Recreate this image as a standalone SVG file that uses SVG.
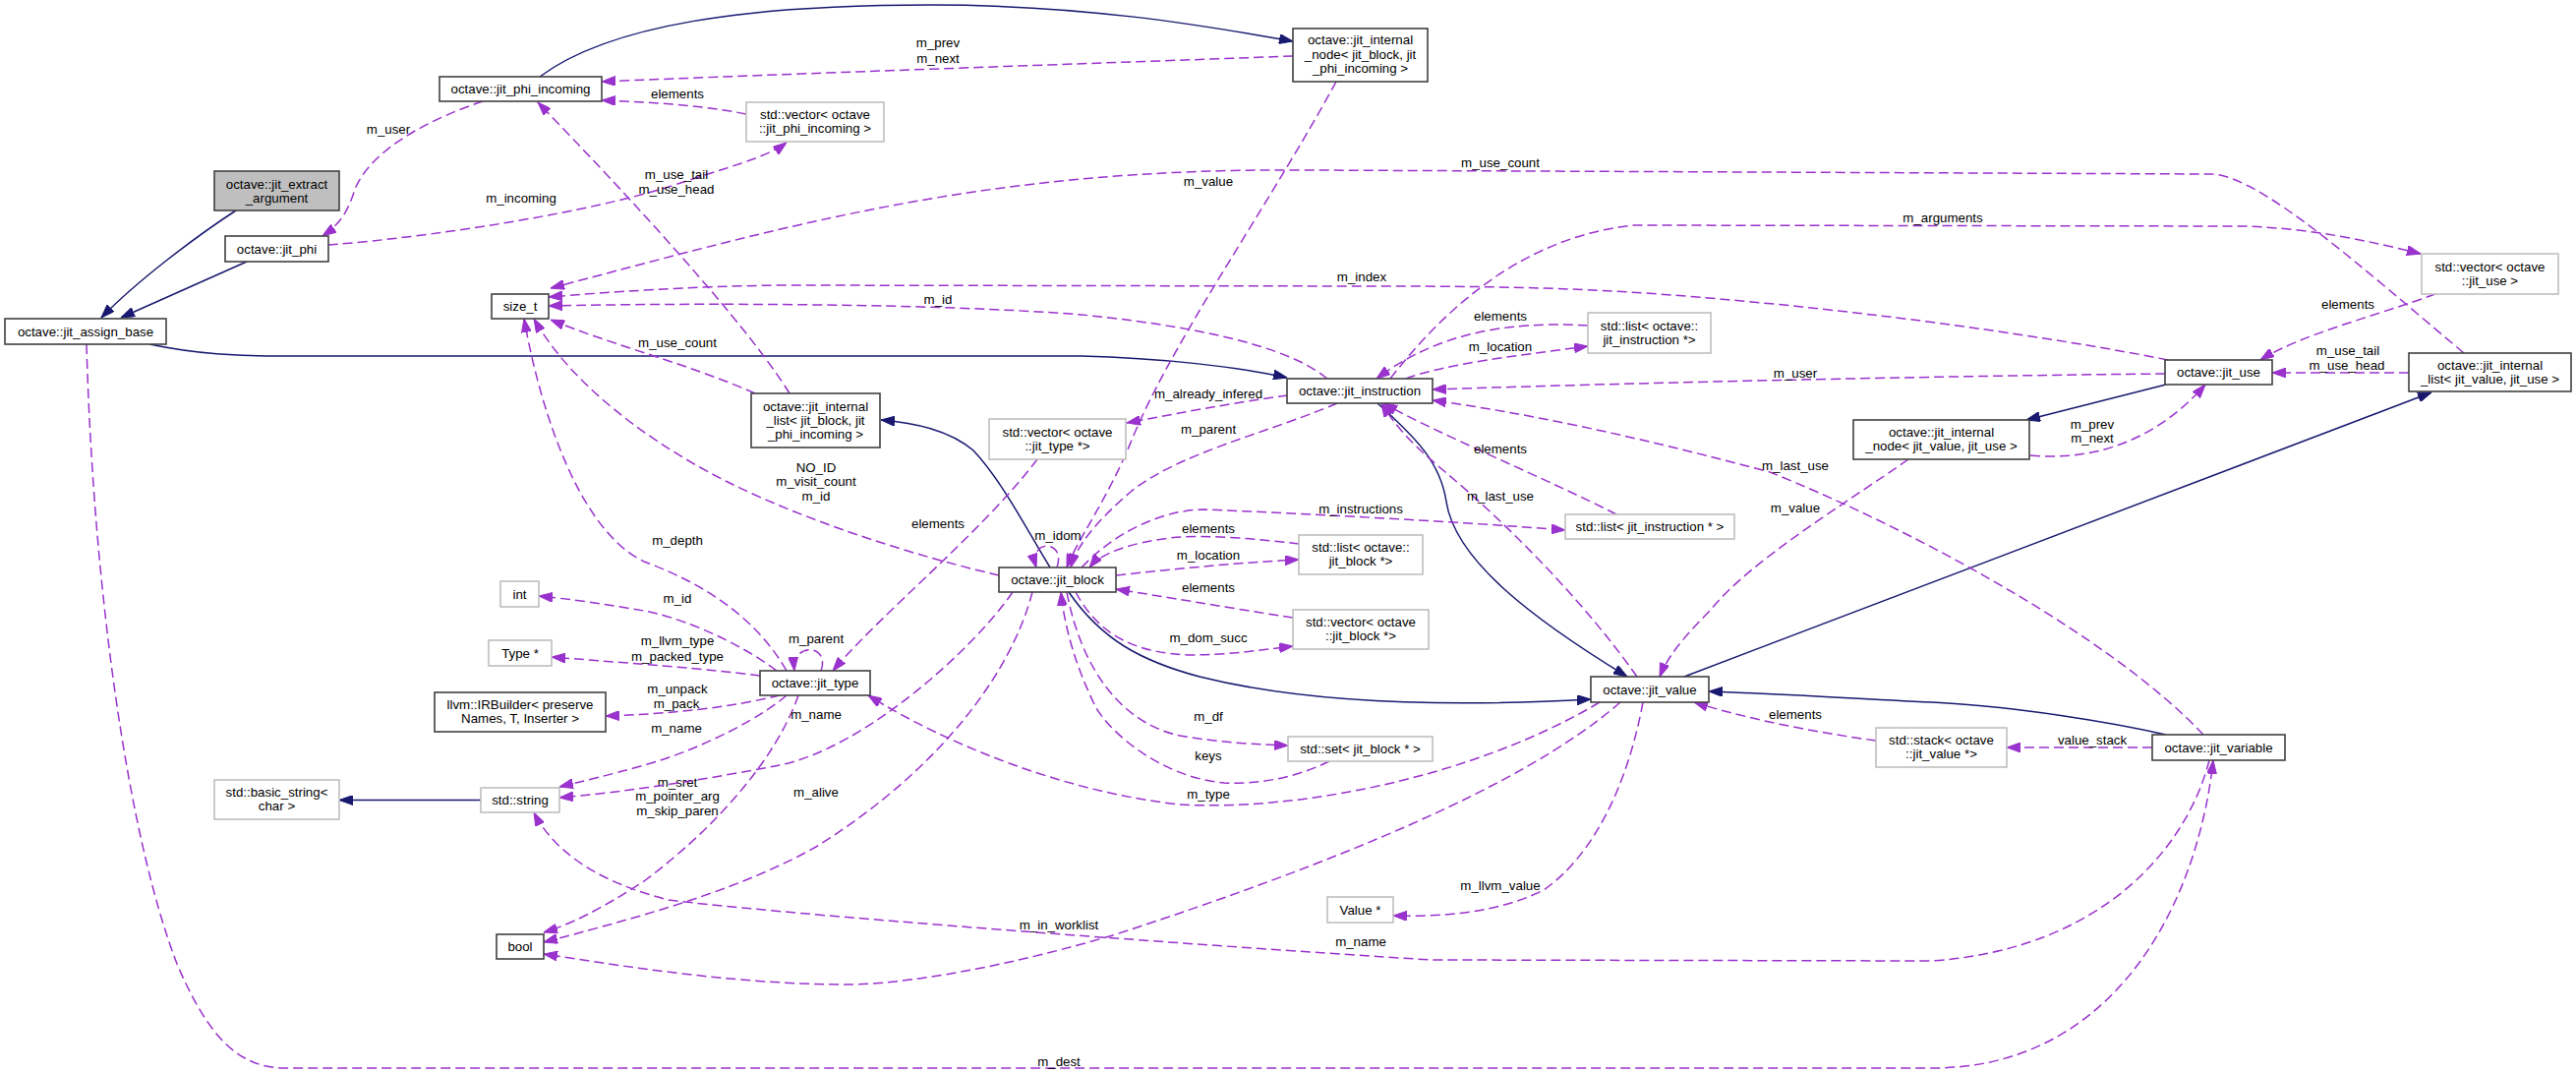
<svg xmlns="http://www.w3.org/2000/svg" width="2620" height="1092" viewBox="0 0 2620 1092">
<style>
text{font-family:"Liberation Sans",Arial,Helvetica,sans-serif;font-size:13.3px;fill:#000;text-anchor:middle}
.nb rect{fill:#fff;stroke:#404040;stroke-width:1.6}
.ng rect{fill:#fff;stroke:#bfbfbf;stroke-width:1.6}
.nm rect{fill:#bfbfbf;stroke:#404040;stroke-width:1.6}
.inh{fill:none;stroke:#191970;stroke-width:1.5;marker-end:url(#ab)}
.use{fill:none;stroke:#9a32cd;stroke-width:1.5;stroke-dasharray:10 5;marker-end:url(#ap)}
</style>
<defs>
<marker id="ab" markerUnits="userSpaceOnUse" markerWidth="14" markerHeight="10" viewBox="0 0 14 10" refX="14" refY="5" orient="auto"><path d="M0,0 L14,5 L0,10 z" fill="#191970" stroke="#191970" stroke-width="1"/></marker>
<marker id="ap" markerUnits="userSpaceOnUse" markerWidth="14" markerHeight="10" viewBox="0 0 14 10" refX="14" refY="5" orient="auto"><path d="M0,0 L14,5 L0,10 z" fill="#9a32cd" stroke="#9a32cd" stroke-width="1"/></marker>
</defs>
<rect width="2620" height="1092" fill="#fff"/>
<g id="edges">
<path class="inh" d="M240 214 C200 240 140 285 103 323"/>
<path class="inh" d="M251 266 L123 323"/>
<path class="inh" d="M152 350 C200 360 240 362 290 362 L1100 362 C1180 364 1260 373 1309 384"/>
<path class="inh" d="M1401 410 C1440 445 1465 470 1471 510 C1480 570 1560 630 1655 688"/>
<path class="inh" d="M1087 602 C1120 650 1160 672 1220 688 C1300 708 1420 722 1618 711"/>
<path class="inh" d="M2203 747 C2150 735 2050 718 1965 714 C1880 710 1800 705 1738 703"/>
<path class="inh" d="M1713 688 L2473 399"/>
<path class="inh" d="M2203 391 L2061 427"/>
<path class="inh" d="M549 78 C620 25 760 5 947 5 C1100 5 1220 25 1315 42"/>
<path class="inh" d="M1068 577 C1045 540 1020 490 990 458 C965 437 930 430 896 427"/>
<path class="inh" d="M489 813.5 L345 813.5"/>

<path class="use" d="M491 103 C440 120 380 150 362 190 C355 210 350 225 328 240"/>
<text x="395" y="135.5">m_user</text>
<path class="use" d="M334 249 C450 240 600 215 680 190 C740 170 780 160 800 145"/>
<text x="530" y="205.5">m_incoming</text>
<path class="use" d="M759 116 C720 108 670 104 612 102"/>
<text x="689" y="99.5">elements</text>
<path class="use" d="M1315 57 C1100 65 800 75 612 83"/>
<text x="954" y="47.5">m_prev</text>
<text x="954" y="63.5">m_next</text>
<path class="use" d="M803 400 C760 330 640 200 547 104"/>
<text x="688" y="181.5">m_use_tail</text>
<text x="688" y="196.5">m_use_head</text>
<path class="use" d="M768 400 C700 370 620 350 560 325"/>
<text x="689" y="352.5">m_use_count</text>
<path class="use" d="M1359 83 C1290 210 1190 350 1150 450 C1125 510 1095 550 1085 577"/>
<text x="1229" y="188.5">m_value</text>
<path class="use" d="M2506 359 C2400 270 2300 180 2250 177 L1330 173 C1000 170 800 230 560 293"/>
<text x="1526" y="169.5">m_use_count</text>
<path class="use" d="M1414 385 C1480 300 1560 240 1661 229 L2282 230 C2350 232 2410 245 2462 258"/>
<text x="1976" y="225.5">m_arguments</text>
<path class="use" d="M2205 366 C2100 345 1900 315 1700 300 C1600 292 1500 291 1400 291 L800 290 C700 291 620 297 558 302"/>
<text x="1385" y="285.5">m_index</text>
<path class="use" d="M1350 385 C1320 360 1250 335 1100 320 C950 308 700 308 558 311"/>
<text x="954" y="308.5">m_id</text>
<path class="use" d="M1615 331 C1530 326 1460 340 1400 385"/>
<text x="1526" y="325.5">elements</text>
<path class="use" d="M1430 385 C1470 370 1540 362 1615 352"/>
<text x="1526" y="356.5">m_location</text>
<path class="use" d="M2477 299 C2420 320 2340 340 2299 366"/>
<text x="2388" y="313.5">elements</text>
<path class="use" d="M2450 379 L2311 379"/>
<text x="2388" y="360.5">m_use_tail</text>
<text x="2387" y="375.5">m_use_head</text>
<path class="use" d="M2065 463 C2140 470 2200 440 2243 391"/>
<text x="2128" y="435.5">m_prev</text>
<text x="2128" y="449.5">m_next</text>
<path class="use" d="M2202 380 C2000 382 1700 388 1457 396"/>
<text x="1826" y="383.5">m_user</text>
<path class="use" d="M1310 402 C1250 410 1200 420 1146 430"/>
<text x="1229" y="404.5">m_already_infered</text>
<path class="use" d="M1360 410 C1290 440 1200 460 1150 500 C1115 530 1095 555 1089 577"/>
<text x="1229" y="440.5">m_parent</text>
<path class="use" d="M1016 585 C930 565 820 530 740 490 C660 450 580 390 543 324"/>
<text x="830" y="479.5">NO_ID</text>
<text x="830" y="493.5">m_visit_count</text>
<text x="830" y="508.5">m_id</text>
<path class="use" d="M1644 523 C1580 490 1460 440 1407 410"/>
<text x="1526" y="460.5">elements</text>
<path class="use" d="M1100 577 C1140 535 1190 518 1225 518 C1320 522 1480 530 1592 539"/>
<text x="1384" y="521.5">m_instructions</text>
<path class="use" d="M2241 747 C2150 650 1950 540 1800 480 C1650 440 1550 420 1457 407"/>
<text x="1826" y="477.5">m_last_use</text>
<path class="use" d="M1665 688 C1610 610 1530 530 1470 480 C1440 455 1420 435 1405 410"/>
<text x="1526" y="508.5">m_last_use</text>
<path class="use" d="M1941 467 C1880 510 1780 570 1740 620 C1710 650 1695 670 1688 688"/>
<text x="1826" y="520.5">m_value</text>
<path class="use" d="M1075 577 C1085 548 1045 548 1054 577"/>
<text x="1076" y="548.5">m_idom</text>
<path class="use" d="M1321 553 C1280 548 1230 543 1190 547 C1150 552 1120 562 1108 577"/>
<text x="1229" y="541.5">elements</text>
<path class="use" d="M1135 585 C1200 578 1260 572 1321 569"/>
<text x="1229" y="568.5">m_location</text>
<path class="use" d="M1315 628 C1250 618 1180 606 1135 599"/>
<text x="1229" y="601.5">elements</text>
<path class="use" d="M1094 602 C1120 650 1160 664 1210 666 C1250 666 1290 660 1315 657"/>
<text x="1229" y="652.5">m_dom_succ</text>
<path class="use" d="M1085 602 C1100 680 1140 735 1200 748 C1240 755 1280 757 1310 758"/>
<text x="1229" y="732.5">m_df</text>
<path class="use" d="M1352 774 C1320 790 1280 798 1245 796 C1180 790 1130 745 1115 720 C1095 680 1083 640 1079 602"/>
<text x="1229" y="772.5">keys</text>
<path class="use" d="M1055 467 C1000 540 900 620 847 682"/>
<text x="954" y="536.5">elements</text>
<path class="use" d="M835 682 C845 655 805 652 808 682"/>
<text x="830" y="653.5">m_parent</text>
<path class="use" d="M800 682 C770 630 720 595 655 571 C590 540 550 420 533 324"/>
<text x="689" y="553.5">m_depth</text>
<path class="use" d="M790 682 C740 645 680 625 655 621 C620 615 580 609 548 606"/>
<text x="689" y="612.5">m_id</text>
<path class="use" d="M773 687 C720 680 650 675 561 668"/>
<text x="689" y="655.5">m_llvm_type</text>
<text x="689" y="671.5">m_packed_type</text>
<path class="use" d="M793 707 C740 720 680 726 616 728"/>
<text x="689" y="704.5">m_unpack</text>
<text x="688" y="719.5">m_pack</text>
<path class="use" d="M800 707 C780 725 720 760 655 778 C620 788 590 795 569 800"/>
<text x="688" y="744.5">m_name</text>
<path class="use" d="M812 707 C790 770 730 840 655 896 C610 925 580 940 553 948"/>
<text x="689" y="799.5">m_sret</text>
<text x="689" y="813.5">m_pointer_arg</text>
<text x="689" y="828.5">m_skip_paren</text>
<path class="use" d="M1030 602 C990 660 880 760 793 778 C720 792 640 805 569 811"/>
<text x="830" y="730.5">m_name</text>
<path class="use" d="M1050 602 C1030 680 960 780 830 861 C760 900 680 925 553 958"/>
<text x="830" y="809.5">m_alive</text>
<path class="use" d="M1627 714 C1500 790 1320 825 1200 818 C1080 805 960 755 883 707"/>
<text x="1229" y="811.5">m_type</text>
<path class="use" d="M1648 714 C1550 800 1350 880 1135 950 C1000 990 900 1002 855 1001 C750 1000 650 985 553 970"/>
<text x="1077" y="944.5">m_in_worklist</text>
<path class="use" d="M1671 714 C1655 800 1620 870 1570 905 C1520 930 1460 932 1417 931"/>
<text x="1526" y="904.5">m_llvm_value</text>
<path class="use" d="M1908 753 C1850 745 1780 732 1723 714"/>
<text x="1826" y="730.5">elements</text>
<path class="use" d="M2189 760 L2041 760"/>
<text x="2128" y="756.5">value_stack</text>
<path class="use" d="M2247 773 C2225 860 2140 965 1965 977 L1456 976 C1200 960 800 930 680 915 C600 895 560 860 543 826"/>
<text x="1384" y="961.5">m_name</text>
<path class="use" d="M88 350 C95 600 130 850 180 980 C210 1050 240 1086 290 1086 L1965 1086 C2150 1086 2235 920 2251 773"/>
<text x="1077" y="1083.5">m_dest</text>
</g>
<g id="node_extract_argument" class="nm"><rect x="218" y="174" width="127" height="40"/><text x="281.5" y="191.5">octave::jit_extract</text><text x="281.5" y="205.8">_argument</text></g>
<g id="node_jit_phi" class="nb"><rect x="229" y="240" width="105" height="26"/><text x="281.5" y="257.5">octave::jit_phi</text></g>
<g id="node_jit_assign_base" class="nb"><rect x="5" y="324" width="164" height="26"/><text x="87" y="341.5">octave::jit_assign_base</text></g>
<g id="node_jit_phi_incoming" class="nb"><rect x="447" y="78" width="165" height="25"/><text x="529.5" y="95">octave::jit_phi_incoming</text></g>
<g id="node_vector_phi_incoming" class="ng"><rect x="759" y="104" width="140" height="40"/><text x="829" y="120.5">std::vector&lt; octave</text><text x="829" y="134.8">::jit_phi_incoming &gt;</text></g>
<g id="node_internal_node_block" class="nb"><rect x="1315" y="29" width="137" height="54"/><text x="1383.5" y="45.2">octave::jit_internal</text><text x="1383.5" y="59.5">_node&lt; jit_block, jit</text><text x="1383.5" y="73.8">_phi_incoming &gt;</text></g>
<g id="node_size_t" class="nb"><rect x="500" y="299" width="58" height="25"/><text x="529" y="316">size_t</text></g>
<g id="node_internal_list_block" class="nb"><rect x="764" y="400" width="131" height="55"/><text x="829.5" y="417.5">octave::jit_internal</text><text x="829.5" y="431.8">_list&lt; jit_block, jit</text><text x="829.5" y="446.1">_phi_incoming &gt;</text></g>
<g id="node_vector_jit_type" class="ng"><rect x="1006" y="426" width="139" height="41"/><text x="1075.5" y="443.5">std::vector&lt; octave</text><text x="1075.5" y="457.8">::jit_type *&gt;</text></g>
<g id="node_jit_instruction" class="nb"><rect x="1309" y="385" width="148" height="25"/><text x="1383" y="402">octave::jit_instruction</text></g>
<g id="node_list_octave_instruction" class="ng"><rect x="1615" y="318" width="125" height="41"/><text x="1677.5" y="335.5">std::list&lt; octave::</text><text x="1677.5" y="349.8">jit_instruction *&gt;</text></g>
<g id="node_vector_jit_use" class="ng"><rect x="2463" y="258" width="139" height="41"/><text x="2532.5" y="275.5">std::vector&lt; octave</text><text x="2532.5" y="289.8">::jit_use &gt;</text></g>
<g id="node_jit_use" class="nb"><rect x="2202" y="366" width="109" height="25"/><text x="2256.5" y="383">octave::jit_use</text></g>
<g id="node_internal_list_value" class="nb"><rect x="2450" y="359" width="165" height="39"/><text x="2532.5" y="375.5">octave::jit_internal</text><text x="2532.5" y="389.8">_list&lt; jit_value, jit_use &gt;</text></g>
<g id="node_internal_node_value" class="nb"><rect x="1885" y="427" width="179" height="40"/><text x="1974.5" y="443.5">octave::jit_internal</text><text x="1974.5" y="457.8">_node&lt; jit_value, jit_use &gt;</text></g>
<g id="node_list_instruction_ptr" class="ng"><rect x="1592" y="523" width="172" height="25"/><text x="1678" y="540">std::list&lt; jit_instruction * &gt;</text></g>
<g id="node_list_octave_block" class="ng"><rect x="1321" y="544" width="126" height="40"/><text x="1384" y="560.5">std::list&lt; octave::</text><text x="1384" y="574.8">jit_block *&gt;</text></g>
<g id="node_jit_block" class="nb"><rect x="1016" y="577" width="119" height="25"/><text x="1075.5" y="594">octave::jit_block</text></g>
<g id="node_vector_jit_block" class="ng"><rect x="1315" y="620" width="138" height="40"/><text x="1384" y="636.5">std::vector&lt; octave</text><text x="1384" y="650.8">::jit_block *&gt;</text></g>
<g id="node_int" class="ng"><rect x="509" y="591" width="39" height="26"/><text x="528.5" y="608.5">int</text></g>
<g id="node_type_ptr" class="ng"><rect x="497" y="651" width="64" height="26"/><text x="529" y="668.5">Type *</text></g>
<g id="node_jit_type" class="nb"><rect x="773" y="682" width="112" height="25"/><text x="829" y="699">octave::jit_type</text></g>
<g id="node_irbuilder" class="nb"><rect x="442" y="704" width="174" height="40"/><text x="529" y="720.5">llvm::IRBuilder&lt; preserve</text><text x="529" y="734.8">Names, T, Inserter &gt;</text></g>
<g id="node_basic_string" class="ng"><rect x="218" y="793" width="127" height="40"/><text x="281.5" y="809.5">std::basic_string&lt;</text><text x="281.5" y="823.8">char &gt;</text></g>
<g id="node_string" class="ng"><rect x="489" y="801" width="80" height="25"/><text x="529" y="818">std::string</text></g>
<g id="node_set_block" class="ng"><rect x="1310" y="749" width="147" height="25"/><text x="1383.5" y="766">std::set&lt; jit_block * &gt;</text></g>
<g id="node_jit_value" class="nb"><rect x="1618" y="688" width="120" height="26"/><text x="1678" y="705.5">octave::jit_value</text></g>
<g id="node_stack_value" class="ng"><rect x="1908" y="740" width="133" height="40"/><text x="1974.5" y="756.5">std::stack&lt; octave</text><text x="1974.5" y="770.8">::jit_value *&gt;</text></g>
<g id="node_jit_variable" class="nb"><rect x="2189" y="747" width="135" height="26"/><text x="2256.5" y="764.5">octave::jit_variable</text></g>
<g id="node_value_ptr" class="ng"><rect x="1350" y="912" width="67" height="26"/><text x="1383.5" y="929.5">Value *</text></g>
<g id="node_bool" class="nb"><rect x="505" y="950" width="48" height="25"/><text x="529" y="967">bool</text></g>
</svg>
